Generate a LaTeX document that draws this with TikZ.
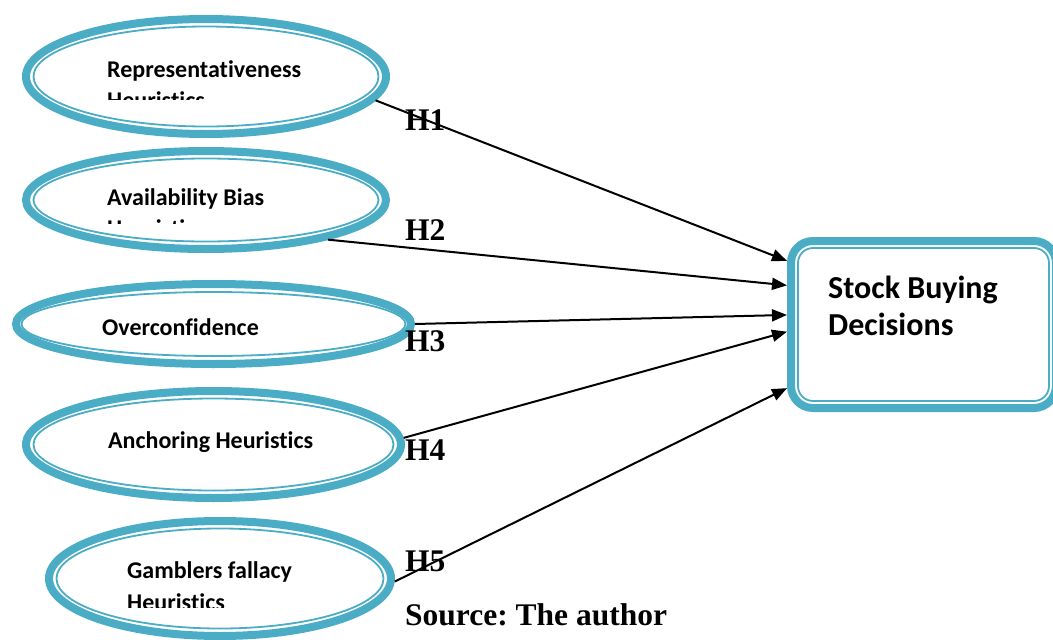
\documentclass[tikz,border=0pt]{standalone}
\usepackage{fontspec}
\setmainfont{Liberation Serif}
\newfontfamily\calibri[Ligatures=NoCommon]{Carlito}
\usetikzlibrary{shapes.geometric,arrows.meta}
\definecolor{bandblue}{HTML}{4BACC6}
\frenchspacing
\tikzstyle{heuristic} = [ellipse, draw=bandblue, line width=8pt]
\tikzstyle{inring} = [draw=bandblue, line width=1.8pt]
\tikzstyle{decision} = [rectangle, rounded corners=22pt, draw=bandblue, line width=8pt, minimum width=265pt, minimum height=167pt]
\tikzstyle{heurtext} = [anchor=base west, inner sep=0pt, font=\calibri\bfseries\fontsize{24}{28}\selectfont]
\tikzstyle{buytext} = [anchor=base west, inner sep=0pt, font=\calibri\bfseries\fontsize{32}{37}\selectfont]
\tikzstyle{hyp} = [anchor=base west, inner sep=0pt, font=\bfseries\fontsize{31.5}{36}\selectfont]
\tikzstyle{arrow} = [line width=2pt,->,>={Triangle[length=15pt,width=12pt]}]

\begin{document}
\begin{tikzpicture}[x=1pt,y=-1pt]
\useasboundingbox (0,0) rectangle (1053,640);
% heuristics
\node (rep) [heuristic, minimum width=360pt, minimum height=115pt] at (206,76.5) {};
\node (avail) [heuristic, minimum width=360pt, minimum height=98pt] at (206,200) {};
\node (over) [heuristic, minimum width=395pt, minimum height=80pt] at (213.5,324) {};
\node (anch) [heuristic, minimum width=375pt, minimum height=107pt] at (213.5,444.5) {};
\node (gamb) [heuristic, minimum width=342pt, minimum height=115pt] at (220,578.5) {};
\draw [inring] (rep.center) ellipse (172.5pt and 50pt);
\draw [inring] (avail.center) ellipse (172.5pt and 41.5pt);
\draw [inring] (over.center) ellipse (192pt and 32pt);
\draw [inring] (anch.center) ellipse (180pt and 46pt);
\draw [inring] (gamb.center) ellipse (163.5pt and 50pt);

\node (reptxt) [heurtext] at (107,77) {Representativeness};
\begin{scope}
\clip (100,85) rectangle (320,99.5);
\node (reptxtb) [heurtext] at (107,108.5) {Heuristics};
\end{scope}
\node (availtxt) [heurtext] at (107,205) {Availability Bias};
\begin{scope}
\clip (100,212) rectangle (320,223.5);
\node (availtxtb) [heurtext] at (107,236.5) {Heuristics};
\end{scope}
\node (overtxt) [heurtext] at (102,335) {Overconfidence};
\node (anchtxt) [heurtext] at (108,448) {Anchoring Heuristics};
\node (gambtxt) [heurtext] at (127,578) {Gamblers fallacy};
\begin{scope}
\clip (120,588) rectangle (320,607);
\node (gambtxtb) [heurtext] at (127,610.5) {Heuristics};
\end{scope}

% decision
\node (buy) [decision] at (923.5,324.5) {};
\draw [inring, rounded corners=15pt] ([xshift=11pt,yshift=-11pt]buy.north west) rectangle ([xshift=-11pt,yshift=11pt]buy.south east);
\node (buytxt) [buytext] at (828,298) {Stock Buying};
\node (buytxtb) [buytext] at (828,335) {Decisions};

% hypotheses
\draw [arrow] (rep.-8.5) -- (buy.155.6);
\draw [arrow] (avail.-18.8) -- (buy.164.5);
\draw [arrow] (over.0) -- (buy.176.5);
\draw [arrow] (anch.2.2) -- (buy.183.6);
\draw [arrow] (gamb.-1.2) -- (buy.205);
\node (h1) [hyp] at (405,130) {H1};
\node (h2) [hyp] at (405,240) {H2};
\node (h3) [hyp] at (405,351) {H3};
\node (h4) [hyp] at (405,460) {H4};
\node (h5) [hyp] at (405,571) {H5};
\node (source) [hyp] at (405,625) {Source: The author};
\end{tikzpicture}
\end{document}
